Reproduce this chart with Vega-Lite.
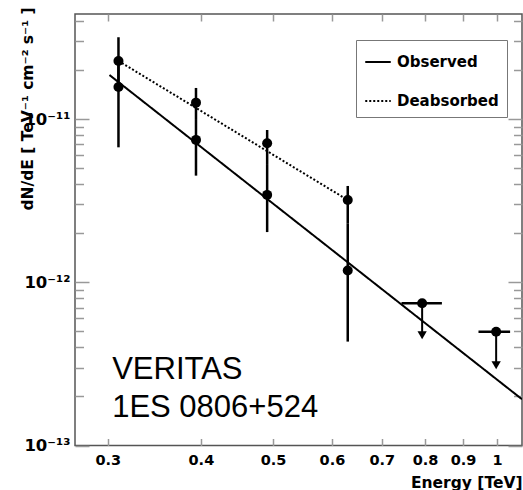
{
  "$schema": "https://vega.github.io/schema/vega-lite/v6.json",
  "width": 447,
  "height": 431.5,
  "autosize": {"type": "none"},
  "padding": {"left": 75, "top": 14, "right": 1, "bottom": 44.5},
  "background": "white",
  "config": {
    "view": {"stroke": "#555", "strokeWidth": 1.5},
    "axis": {
      "grid": false,
      "domain": false,
      "tickColor": "#999",
      "tickWidth": 1.5,
      "labelFont": "DejaVu Sans",
      "labelFontWeight": "bold",
      "labelColor": "black",
      "titleFont": "DejaVu Sans",
      "titleFontWeight": "bold",
      "titleColor": "black"
    }
  },
  "datasets": {
    "pts": [
      {"E": 0.31, "F": 1.57e-11, "lo": 6.71e-12, "hi": 2.3e-11, "series": "Observed"},
      {"E": 0.31, "F": 2.27e-11, "lo": 1.57e-11, "hi": 3.17e-11, "series": "Deabsorbed"},
      {"E": 0.394, "F": 7.45e-12, "lo": 4.5e-12, "hi": 1.0e-11, "series": "Observed"},
      {"E": 0.394, "F": 1.26e-11, "lo": 1.0e-11, "hi": 1.55e-11, "series": "Deabsorbed"},
      {"E": 0.491, "F": 3.43e-12, "lo": 2.03e-12, "hi": 5.3e-12, "series": "Observed"},
      {"E": 0.491, "F": 7.11e-12, "lo": 5.3e-12, "hi": 8.57e-12, "series": "Deabsorbed"},
      {"E": 0.63, "F": 1.18e-12, "lo": 4.33e-13, "hi": 2.3e-12, "series": "Observed"},
      {"E": 0.63, "F": 3.19e-12, "lo": 2.3e-12, "hi": 3.89e-12, "series": "Deabsorbed"}
    ],
    "fit": [
      {"E": 0.3015, "F": 1.86e-11, "series": "Observed"},
      {"E": 1.08, "F": 1.92e-13, "series": "Observed"},
      {"E": 0.31, "F": 2.27e-11, "series": "Deabsorbed"},
      {"E": 0.63, "F": 3.19e-12, "series": "Deabsorbed"}
    ],
    "ul": [
      {"E": 0.793, "F": 7.43e-13, "Emin": 0.744, "Emax": 0.843, "Farrow": 4.73e-13},
      {"E": 0.997, "F": 4.98e-13, "Emin": 0.944, "Emax": 1.041, "Farrow": 3.1e-13}
    ],
    "notes": [
      {"E": 0.304, "F": 2.55e-13, "text": "VERITAS"},
      {"E": 0.304, "F": 1.5e-13, "text": "1ES 0806+524"}
    ]
  },
  "resolve": {"axis": {"x": "independent", "y": "independent"}},
  "layer": [
    {
      "data": {"name": "fit"},
      "mark": {"type": "line", "color": "black", "strokeWidth": 2, "clip": true},
      "encoding": {
        "x": {"field": "E", "type": "quantitative", "scale": {"type": "log", "domain": [0.271, 1.08], "nice": false}, "axis": null},
        "y": {"field": "F", "type": "quantitative", "scale": {"type": "log", "domain": [1e-13, 4.4e-11], "nice": false},
          "axis": {"orient": "right", "values": [1e-13, 1e-12, 1e-11], "tickSize": -14, "labels": false, "title": null}},
        "strokeDash": {"field": "series", "type": "nominal",
          "scale": {"domain": ["Observed", "Deabsorbed"], "range": [[1, 0], [2, 2]]},
          "legend": {"orient": "none", "legendX": 281, "legendY": 26, "title": null, "strokeColor": "#777",
            "fillColor": "white", "padding": 8, "rowPadding": 17, "symbolType": "stroke", "symbolSize": 650,
            "symbolStrokeWidth": 2, "symbolStrokeColor": "black", "labelFont": "DejaVu Sans",
            "labelFontWeight": "bold", "labelFontSize": 15, "labelOffset": 5, "labelColor": "black"}}
      }
    },
    {
      "data": {"name": "pts"},
      "mark": {"type": "rule", "color": "black", "strokeWidth": 2.5},
      "encoding": {
        "x": {"field": "E", "type": "quantitative", "scale": {"type": "log", "domain": [0.271, 1.08], "nice": false},
          "axis": {"orient": "bottom", "values": [0.3, 0.4, 0.5, 0.6, 0.7, 0.8, 0.9, 1], "tickSize": -7,
            "labelPadding": 15, "labelFontSize": 14.5, "labelExpr": "format(datum.value, '.1~f')",
            "title": "Energy [TeV]", "titleFontSize": 15.5, "titleX": 447, "titleY": 41.5,
            "titleAlign": "right", "titleBaseline": "alphabetic"}},
        "y": {"field": "lo", "type": "quantitative", "scale": {"type": "log", "domain": [1e-13, 4.4e-11], "nice": false},
          "axis": {"orient": "left", "values": [1e-13, 1e-12, 1e-11], "tickSize": -14, "labelPadding": 19,
            "labelFontSize": 16.5,
            "labelExpr": "'10' + (datum.value < 5e-13 ? '⁻¹³' : datum.value < 5e-12 ? '⁻¹²' : '⁻¹¹')",
            "title": "dN/dE [ TeV⁻¹ cm⁻² s⁻¹ ]", "titleFontSize": 15.5, "titleX": -48, "titleY": 94.5,
            "titleAngle": -90, "titleAlign": "center", "titleBaseline": "middle"}},
        "y2": {"field": "hi"}
      }
    },
    {
      "data": {"name": "pts"},
      "mark": {"type": "circle", "color": "black", "opacity": 1, "size": 100},
      "encoding": {
        "x": {"field": "E", "type": "quantitative", "scale": {"type": "log", "domain": [0.271, 1.08], "nice": false},
          "axis": {"orient": "top", "values": [0.3, 0.4, 0.5, 0.6, 0.7, 0.8, 0.9, 1], "tickSize": -7, "labels": false, "title": null}},
        "y": {"field": "F", "type": "quantitative", "scale": {"type": "log", "domain": [1e-13, 4.4e-11], "nice": false},
          "axis": {"orient": "left", "tickSize": -8.5, "labels": false, "title": null,
            "values": [2e-13, 3e-13, 4e-13, 5e-13, 6e-13, 7e-13, 8e-13, 9e-13, 2e-12, 3e-12, 4e-12, 5e-12, 6e-12, 7e-12, 8e-12, 9e-12, 2e-11, 3e-11, 4e-11]}}
      }
    },
    {
      "data": {"name": "ul"},
      "mark": {"type": "rule", "color": "black", "strokeWidth": 2.5},
      "encoding": {
        "x": {"field": "Emin", "type": "quantitative", "scale": {"type": "log", "domain": [0.271, 1.08], "nice": false}, "axis": null},
        "x2": {"field": "Emax"},
        "y": {"field": "F", "type": "quantitative", "scale": {"type": "log", "domain": [1e-13, 4.4e-11], "nice": false},
          "axis": {"orient": "right", "tickSize": -8.5, "labels": false, "title": null,
            "values": [2e-13, 3e-13, 4e-13, 5e-13, 6e-13, 7e-13, 8e-13, 9e-13, 2e-12, 3e-12, 4e-12, 5e-12, 6e-12, 7e-12, 8e-12, 9e-12, 2e-11, 3e-11, 4e-11]}}
      }
    },
    {
      "data": {"name": "ul"},
      "mark": {"type": "rule", "color": "black", "strokeWidth": 2},
      "encoding": {
        "x": {"field": "E", "type": "quantitative", "scale": {"type": "log", "domain": [0.271, 1.08], "nice": false}, "axis": null},
        "y": {"field": "F", "type": "quantitative", "scale": {"type": "log", "domain": [1e-13, 4.4e-11], "nice": false}, "axis": null},
        "y2": {"field": "Farrow"}
      }
    },
    {
      "data": {"name": "ul"},
      "mark": {"type": "point", "shape": "triangle-down", "filled": true, "color": "black", "opacity": 1, "size": 86},
      "encoding": {
        "x": {"field": "E", "type": "quantitative", "scale": {"type": "log", "domain": [0.271, 1.08], "nice": false}, "axis": null},
        "y": {"field": "Farrow", "type": "quantitative", "scale": {"type": "log", "domain": [1e-13, 4.4e-11], "nice": false}, "axis": null}
      }
    },
    {
      "data": {"name": "ul"},
      "mark": {"type": "circle", "color": "black", "opacity": 1, "size": 100},
      "encoding": {
        "x": {"field": "E", "type": "quantitative", "scale": {"type": "log", "domain": [0.271, 1.08], "nice": false}, "axis": null},
        "y": {"field": "F", "type": "quantitative", "scale": {"type": "log", "domain": [1e-13, 4.4e-11], "nice": false}, "axis": null}
      }
    },
    {
      "data": {"name": "notes"},
      "mark": {"type": "text", "align": "left", "baseline": "alphabetic", "font": "Liberation Sans", "fontSize": 31, "color": "black"},
      "encoding": {
        "x": {"field": "E", "type": "quantitative", "scale": {"type": "log", "domain": [0.271, 1.08], "nice": false}, "axis": null},
        "y": {"field": "F", "type": "quantitative", "scale": {"type": "log", "domain": [1e-13, 4.4e-11], "nice": false}, "axis": null},
        "text": {"field": "text"}
      }
    }
  ]
}
